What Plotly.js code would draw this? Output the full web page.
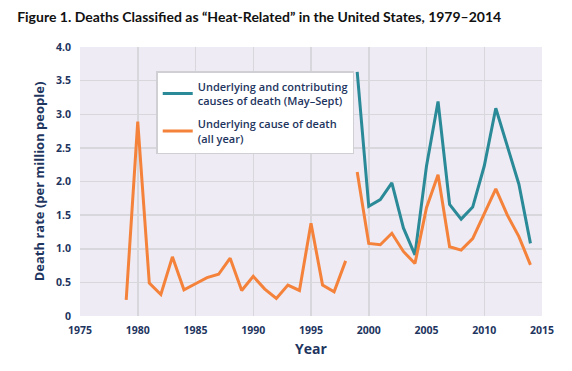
<!DOCTYPE html>
<html>
<head>
<meta charset="utf-8">
<script src="https://cdn.plot.ly/plotly-3.0.1.min.js"></script>
<style>html,body{margin:0;padding:0;background:#fff;}#chart{width:572px;height:371px;}</style>
</head>
<body>
<div id="chart"></div>
<script>
const yearsEarly = [1979,1980,1981,1982,1983,1984,1985,1986,1987,1988,1989,1990,1991,1992,1993,1994,1995,1996,1997,1998];
const underlyingEarly = [0.24,2.89,0.49,0.32,0.88,0.39,0.48,0.57,0.62,0.86,0.38,0.59,0.40,0.26,0.46,0.38,1.38,0.46,0.36,0.82];
const yearsLate = [1999,2000,2001,2002,2003,2004,2005,2006,2007,2008,2009,2010,2011,2012,2013,2014];
const underlyingLate = [2.14,1.08,1.06,1.23,0.96,0.78,1.61,2.10,1.03,0.98,1.15,1.53,1.89,1.50,1.18,0.76];
const contributingLate = [3.63,1.63,1.73,1.98,1.31,0.91,2.23,3.19,1.66,1.44,1.62,2.23,3.09,2.52,1.96,1.08];
const yTickVals = [0,0.5,1,1.5,2,2.5,3,3.5,4];
const yTickText = ["0","0.5","1.0","1.5","2.0","2.5","3.0","3.5","4.0"];
const xTickVals = [1975,1980,1985,1990,1995,2000,2005,2010,2015];

const teal = "#2A8A97";
const orange = "#F5823A";
const navy = "#1E3560";

const traces = [
  {x: yearsLate, y: contributingLate, type: "scatter", mode: "lines",
   name: "Underlying and contributing<br>causes of death (May–Sept)",
   line: {color: teal, width: 3}, legendgroup: "a"},
  {x: yearsEarly, y: underlyingEarly, type: "scatter", mode: "lines",
   name: "Underlying cause of death<br>(all year)",
   line: {color: orange, width: 3}, legendgroup: "b"},
  {x: yearsLate, y: underlyingLate, type: "scatter", mode: "lines",
   name: "Underlying cause of death<br>(all year)", showlegend: false,
   line: {color: orange, width: 3}, legendgroup: "b"}
];

const layout = {
  width: 572, height: 371,
  margin: {l: 80, r: 30, t: 47, b: 55},
  paper_bgcolor: "#ffffff",
  plot_bgcolor: "#EEEBF4",
  font: {family: "Open Sans, sans-serif", color: navy},
  title: {text: "<b>Figure 1. Deaths Classified as “Heat-Related” in the United States, 1979–2014</b>",
          font: {family: "Lato, sans-serif", size: 14, color: "#111"},
          x: 0.03, xanchor: "left", y: 0.955, yanchor: "middle"},
  xaxis: {range: [1975, 2015], tickvals: xTickVals, ticktext: xTickVals.map(String),
          showgrid: true, gridcolor: "#D8D7DC", gridwidth: 1.5, zeroline: false, showline: false,
          ticks: "", ticklabelstandoff: 6, tickfont: {size: 10.5, color: navy, weight: "bold"},
          title: {text: "<b>Year</b>", font: {size: 14, color: navy}, standoff: 8}},
  yaxis: {range: [0, 4], tickvals: yTickVals, ticktext: yTickText,
          showgrid: true, gridcolor: "#D8D7DC", gridwidth: 1.5, zeroline: false, showline: false,
          ticks: "", ticklabelstandoff: 8, tickfont: {size: 10.5, color: navy, weight: "bold"},
          title: {text: "<b>Death rate (per million people)</b>", font: {size: 13, color: navy}, standoff: 8}},
  legend: {x: 0.165, y: 0.91, xanchor: "left", yanchor: "top",
           bgcolor: "#ffffff", bordercolor: "#CFCFD4", borderwidth: 1.5,
           font: {size: 11, color: navy, weight: 600}, tracegroupgap: 6, itemwidth: 30},
  showlegend: true
};

Plotly.newPlot("chart", traces, layout, {displayModeBar: false, staticPlot: true});
</script>
</body>
</html>
